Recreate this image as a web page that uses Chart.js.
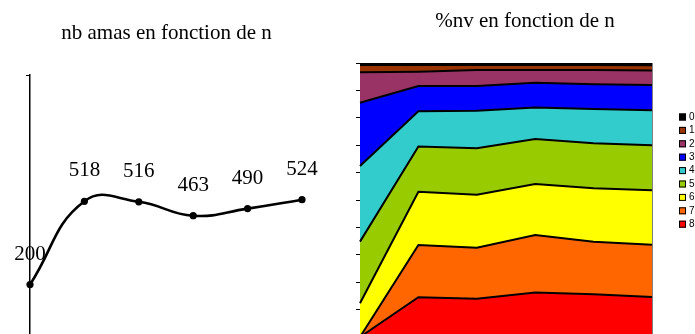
<!DOCTYPE html>
<html>
<head>
<meta charset="utf-8">
<script src="https://cdn.jsdelivr.net/npm/chart.js@4"></script>
<style>
  html, body { margin: 0; padding: 0; width: 695px; height: 334px; overflow: hidden; background: #fff; }
  #left { position: absolute; left: 0; top: 0; width: 333px; height: 345px; }
  #right { position: absolute; left: 350px; top: 0; width: 350px; height: 345px; }
</style>
</head>
<body>
<div id="left"><canvas id="amasChart"></canvas></div>
<div id="right"><canvas id="nvChart"></canvas></div>
<script>
// categories (n) - the x axis is cut off in the picture
const nLabels = ['1', '2', '3', '4', '5', '6'];

// nb amas for each n
const nbAmas = [200, 518, 516, 463, 490, 524];

// %nv for each n, one array per class (0 .. 8)
const pct0 = [0.7, 0.7, 0.7, 0.7, 0.7, 0.8];
const pct1 = [2.7, 2.5, 1.9, 1.9, 1.9, 1.9];
const pct2 = [11.1, 5.2, 5.8, 4.6, 5.2, 5.3];
const pct3 = [23.1, 9.2, 9.0, 9.0, 9.0, 9.2];
const pct4 = [27.6, 12.9, 13.7, 11.5, 12.5, 12.8];
const pct5 = [22.5, 16.5, 17.0, 16.5, 16.4, 16.4];
const pct6 = [12.3, 19.4, 19.3, 18.6, 19.5, 19.9];
const pct7 = [0.0, 19.1, 18.6, 21.0, 19.2, 19.1];
const pct8 = [0.0, 14.5, 14.0, 16.2, 15.6, 14.6];

const classLabels = ['0', '1', '2', '3', '4', '5', '6', '7', '8'];
const classColors = ['#000000', '#993300', '#993366', '#0000FF', '#33CCCC', '#99CC00', '#FFFF00', '#FF6600', '#FF0000'];
const classValues = [pct0, pct1, pct2, pct3, pct4, pct5, pct6, pct7, pct8];

const serif = '"Liberation Serif", "Times New Roman", serif';

// title centred on the canvas (the built-in one centres between the paddings)
const canvasTitle = {
    id: 'canvasTitle',
    afterDraw(chart, args, opts) {
        const ctx = chart.ctx;
        ctx.save();
        ctx.font = '21px ' + serif;
        ctx.fillStyle = '#000';
        ctx.textAlign = 'center';
        ctx.textBaseline = 'middle';
        ctx.fillText(opts.text, chart.width / 2, opts.y);
        ctx.restore();
    }
};

// value labels above the points
const valueLabels = {
    id: 'valueLabels',
    afterDatasetsDraw(chart) {
        const ctx = chart.ctx;
        const meta = chart.getDatasetMeta(0);
        ctx.save();
        ctx.font = '21px ' + serif;
        ctx.fillStyle = '#000';
        ctx.textAlign = 'center';
        ctx.textBaseline = 'alphabetic';
        meta.data.forEach((pt, i) => {
            ctx.fillText(String(nbAmas[i]), pt.x, pt.y - 25);
        });
        ctx.restore();
    }
};

new Chart(document.getElementById('amasChart'), {
    type: 'line',
    data: {
        labels: nLabels,
        datasets: [{
            data: nbAmas,
            borderColor: '#000',
            borderWidth: 2.6,
            tension: 0.45,
            pointRadius: 3.6,
            pointBackgroundColor: '#000',
            pointBorderWidth: 0,
            fill: false
        }]
    },
    options: {
        responsive: true,
        maintainAspectRatio: false,
        animation: false,
        layout: { padding: { left: 26, right: 31, top: 75, bottom: 8 } },
        plugins: {
            legend: { display: false },
            tooltip: { enabled: false },
            title: { display: false },
            canvasTitle: { text: 'nb amas en fonction de n', y: 33.6 }
        },
        scales: {
            x: { display: false, offset: false },
            y: {
                min: 0,
                max: 1000,
                ticks: { display: false, stepSize: 1000 },
                border: { display: true, color: '#000', width: 1.5 },
                grid: {
                    drawOnChartArea: false,
                    tickLength: 4,
                    color: (c) => (c.tick && c.tick.value === 1000 ? '#000' : 'rgba(0,0,0,0)')
                }
            }
        }
    },
    plugins: [valueLabels, canvasTitle]
});

// frame line on the right of the plot area + legend
const frameAndLegend = {
    id: 'frameAndLegend',
    afterDraw(chart) {
        const ctx = chart.ctx;
        const a = chart.chartArea;
        ctx.save();
        ctx.strokeStyle = '#808080';
        ctx.lineWidth = 1;
        ctx.beginPath();
        ctx.moveTo(a.right + 0.5, a.top);
        ctx.lineTo(a.right + 0.5, a.bottom);
        ctx.stroke();

        // legend: 0 at the top, 8 at the bottom
        ctx.font = '10px "Liberation Sans", Arial, sans-serif';
        ctx.textBaseline = 'middle';
        const x0 = a.right + 27;
        const y0 = 117;
        const step = 13.4;
        classLabels.forEach((lab, i) => {
            const y = y0 + i * step;
            ctx.fillStyle = classColors[i];
            ctx.fillRect(x0, y - 3.5, 7, 7);
            ctx.strokeStyle = '#000';
            ctx.lineWidth = 1;
            ctx.strokeRect(x0 + 0.5, y - 3.5 + 0.5, 6, 6);
            ctx.fillStyle = '#000';
            ctx.fillText(lab, x0 + 10, y);
        });
        ctx.restore();
    }
};

// stacked from the bottom: 8 first, 0 last
const nvDatasets = [];
for (let i = classLabels.length - 1; i >= 0; i--) {
    nvDatasets.push({
        label: classLabels[i],
        data: classValues[i],
        backgroundColor: classColors[i],
        borderColor: '#000',
        borderWidth: 2,
        pointRadius: 0,
        tension: 0,
        fill: nvDatasets.length === 0 ? 'origin' : '-1'
    });
}

new Chart(document.getElementById('nvChart'), {
    type: 'line',
    data: { labels: nLabels, datasets: nvDatasets },
    options: {
        responsive: true,
        maintainAspectRatio: false,
        animation: false,
        layout: { padding: { left: 6, right: 48, top: 63, bottom: 8 } },
        plugins: {
            legend: { display: false },
            tooltip: { enabled: false },
            title: { display: false },
            canvasTitle: { text: '%nv en fonction de n', y: 21.6 }
        },
        scales: {
            x: { display: false, offset: false },
            y: {
                stacked: true,
                min: 0,
                max: 100,
                ticks: { display: false, stepSize: 10 },
                border: { display: true, color: '#808080', width: 1 },
                grid: { drawOnChartArea: false, tickLength: 4, color: '#000' }
            }
        }
    },
    plugins: [frameAndLegend, canvasTitle]
});
</script>
</body>
</html>
